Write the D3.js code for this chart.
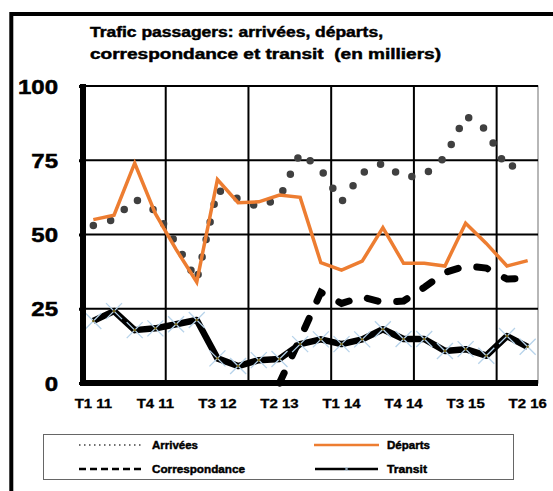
<!DOCTYPE html>
<html>
<head>
<meta charset="utf-8">
<script src="https://cdn.jsdelivr.net/npm/d3@7"></script>
<style>
  body { margin: 0; background: #fff; }
  svg { display: block; font-family: "Liberation Sans", Arial, sans-serif; }
  text { font-weight: bold; }
</style>
</head>
<body>
<div id="chart"></div>
<script>
const categories = ["T1 11","T2 11","T3 11","T4 11","T1 12","T2 12","T3 12","T4 12","T1 13","T2 13","T3 13",
                    "T4 13","T1 14","T2 14","T3 14","T4 14","T1 15","T2 15","T3 15","T4 15","T1 16","T2 16"];
const xLabels = ["T1 11","T4 11","T3 12","T2 13","T1 14","T4 14","T3 15","T2 16"];
const yTicks = [0, 25, 50, 75, 100];

const arrivees = [53, 55, 62, 58, 47, 34.5, 65, 62, 59.3, 62.3, 77.4, 72, 61, 70.7, 74, 69.2, 70, 76, 90, 85.2, 72, 76];
const departs = [55, 56.5, 74, 57, 45, 34, 68.5, 60.7, 61, 63.3, 62.5, 40.5, 38, 41, 52.3, 40.3, 40.3, 39.4, 53.8, 47, 39.4, 41.2];
const correspondance = [null, null, null, null, null, null, null, null, null, 0, 15, 30.5, 26.8, 29, 27.1, 27.6, 32.2, 37.2, 39.4, 38.7, 35, 35.3];
const transit = [20.9, 24.2, 17.8, 18.4, 19.8, 21.2, 8.3, 5.7, 7.7, 8.1, 13.1, 14.7, 13.1, 14.7, 18.1, 14.8, 14.8, 10.8, 11.4, 9.2, 15.8, 12.2];

const W = 553, H = 491;

const svg = d3.select("#chart").append("svg")
  .attr("width", W).attr("height", H);

// outer frame (cropped)
svg.append("path")
  .attr("d", "M11.3,491 V14 H553")
  .attr("fill", "none").attr("stroke", "#000").attr("stroke-width", 4);

// text stretched to the width measured on the original
function label(g, txt, x, y, size, width) {
  return g.append("text")
    .attr("x", x).attr("y", y)
    .attr("font-size", size)
    .attr("font-weight", "bold")
    .attr("fill", "#000")
    .attr("stroke", "#000").attr("stroke-width", 0.45)
    .attr("textLength", width)
    .attr("lengthAdjust", "spacingAndGlyphs")
    .attr("xml:space", "preserve")
    .text(txt);
}

// title
label(svg, "Trafic passagers: arrivées, départs,", 90, 37, 14, 293);
label(svg, "correspondance et transit  (en milliers)", 90, 59, 14, 351);

const x = d3.scaleBand().domain(categories).range([83, 538]);
const cx = c => x(c) + x.bandwidth() / 2;
const y = d3.scaleLinear().domain([0, 100]).range([383, 86]);

// plot border
svg.append("rect")
  .attr("x", 83).attr("y", y(100)).attr("width", 538 - 83).attr("height", y(0) - y(100))
  .attr("fill", "none").attr("stroke", "#888").attr("stroke-width", 1.2);

// gridlines
svg.append("g").selectAll("line")
  .data(yTicks.filter(d => d > 0))
  .join("line")
  .attr("x1", 83).attr("x2", 538)
  .attr("y1", d => y(d)).attr("y2", d => y(d))
  .attr("stroke", "#000").attr("stroke-width", 2);

svg.append("g").selectAll("line")
  .data(categories.filter((c, i) => i > 0 && i % 4 === 0))
  .join("line")
  .attr("x1", d => x(d)).attr("x2", d => x(d))
  .attr("y1", y(100)).attr("y2", y(0))
  .attr("stroke", "#000").attr("stroke-width", 2);

// series
const line = d3.line()
  .defined(d => d[1] != null)
  .x(d => cx(d[0]))
  .y(d => y(d[1]));
const pairs = arr => categories.map((c, i) => [c, arr[i]]);

svg.append("path").datum(pairs(arrivees))
  .attr("d", line)
  .attr("fill", "none").attr("stroke", "#404040").attr("stroke-width", 7.5)
  .attr("stroke-linecap", "round").attr("stroke-dasharray", "0,18");

svg.append("path").datum(pairs(departs))
  .attr("d", line)
  .attr("fill", "none").attr("stroke", "#ED7D31").attr("stroke-width", 3.5);

svg.append("path").datum(pairs(correspondance))
  .attr("d", line)
  .attr("fill", "none").attr("stroke", "#000").attr("stroke-width", 7)
  .attr("stroke-linecap", "round").attr("stroke-dasharray", "11,19");

svg.append("path").datum(pairs(transit))
  .attr("d", line)
  .attr("fill", "none").attr("stroke", "#000").attr("stroke-width", 6.5)
  .attr("stroke-linejoin", "round");

const mk = svg.append("g").selectAll("g")
  .data(pairs(transit))
  .join("g")
  .attr("transform", d => `translate(${cx(d[0])},${y(d[1])})`);
mk.append("path")
  .attr("d", "M-8,-8L8,8M-8,8L8,-8")
  .attr("stroke", "#b7d3ea").attr("stroke-width", 1.3);
mk.append("circle").attr("r", 1.3).attr("fill", "#7a6a20");

// axes
const yAxis = svg.append("g")
  .attr("transform", "translate(83,0)")
  .call(d3.axisLeft(y).tickValues(yTicks).tickSize(4).tickPadding(0));
yAxis.select(".domain").attr("stroke-width", 6).attr("d", `M0,${y(100) - 2}V${y(0) + 3}`);
yAxis.selectAll(".tick line").attr("stroke-width", 3);
yAxis.selectAll(".tick text")
  .attr("x", null).attr("dy", null)
  .attr("transform", `translate(-25,7) scale(1.2,1)`)
  .attr("text-anchor", "end")
  .attr("stroke", "#000").attr("stroke-width", 0.5)
  .attr("font-size", 20).attr("font-family", null).attr("font-weight", "bold");

const xAxis = svg.append("g")
  .attr("transform", `translate(0,${y(0)})`)
  .call(d3.axisBottom(x).tickValues(xLabels).tickSize(0).tickPadding(0));
xAxis.select(".domain").attr("stroke-width", 6).attr("d", "M80,0H538");
xAxis.selectAll(".tick text")
  .attr("y", null).attr("dy", null)
  .attr("transform", `translate(0,25) scale(1.15,1)`)
  .attr("stroke", "#000").attr("stroke-width", 0.3)
  .attr("font-size", 13).attr("font-family", null).attr("font-weight", "bold");

// legend
const lg = svg.append("g");
lg.append("rect")
  .attr("x", 43.5).attr("y", 434.5).attr("width", 470).attr("height", 45)
  .attr("fill", "#fff").attr("stroke", "#666").attr("stroke-width", 1);

const legendItems = [
  {name: "Arrivées", x0: 79, x1: 141, tx: 152, tw: 46, row: 0, stroke: "#404040", w: 1.5, dash: "1.5,3.5"},
  {name: "Départs", x0: 314, x1: 379, tx: 387, tw: 43, row: 0, stroke: "#ED7D31", w: 2.5, dash: null},
  {name: "Correspondance", x0: 79, x1: 143, tx: 152, tw: 93, row: 1, stroke: "#000", w: 2.5, dash: "7,4"},
  {name: "Transit", x0: 315, x1: 378, tx: 387, tw: 40, row: 1, stroke: "#000", w: 2.5, dash: null}
];
legendItems.forEach(it => {
  const ly = 445 + it.row * 24;
  lg.append("line")
    .attr("x1", it.x0).attr("x2", it.x1).attr("y1", ly).attr("y2", ly)
    .attr("stroke", it.stroke).attr("stroke-width", it.w)
    .attr("stroke-dasharray", it.dash);
  if (it.name === "Transit") {
    lg.append("path")
      .attr("d", `M${(it.x0 + it.x1) / 2 - 2},${ly - 2}l4,4m-4,0l4,-4`)
      .attr("stroke", "#b7d3ea").attr("stroke-width", 1);
  }
  label(lg, it.name, it.tx, ly + 4, 11.5, it.tw);
});
</script>
</body>
</html>
